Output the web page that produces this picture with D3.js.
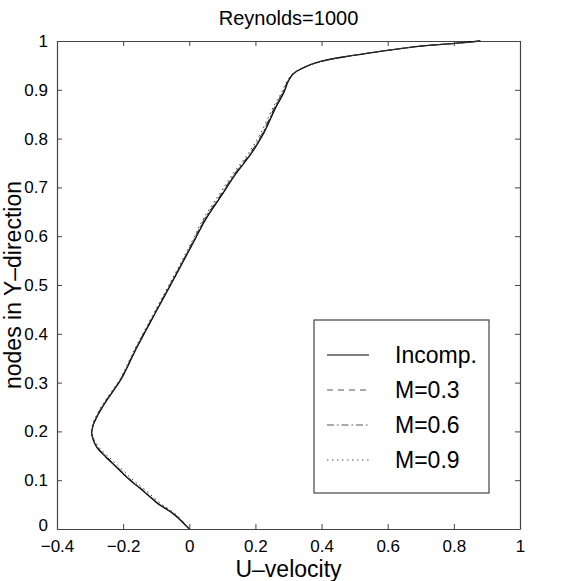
<!DOCTYPE html>
<html>
<head>
<meta charset="utf-8">
<script src="https://cdn.jsdelivr.net/npm/d3@7"></script>
<style>
  body { margin: 0; background: #fff; }
  svg { display: block; font-family: "Liberation Sans", Arial, sans-serif; }
</style>
</head>
<body>
<svg width="565" height="581"></svg>
<script>
// nodes in y (0..1) and u-velocity
const yNodes = [0, 0.031, 0.052, 0.079, 0.1, 0.124, 0.148, 0.169, 0.186, 0.197, 0.214, 0.234, 0.255, 0.279, 0.307, 0.374, 0.456, 0.531, 0.592, 0.634, 0.681, 0.729, 0.77, 0.811, 0.866, 0.893, 0.917, 0.932, 0.944, 0.958, 0.97, 0.981, 0.99, 0.995, 1];
const uIncomp = [0, -0.048, -0.095, -0.141, -0.179, -0.216, -0.253, -0.281, -0.292, -0.295, -0.29, -0.276, -0.258, -0.234, -0.206, -0.157, -0.092, -0.032, 0.016, 0.049, 0.095, 0.142, 0.188, 0.225, 0.263, 0.285, 0.299, 0.313, 0.341, 0.397, 0.491, 0.6, 0.706, 0.802, 0.88];
const uM03 = [0, -0.047, -0.094, -0.14, -0.178, -0.215, -0.252, -0.28, -0.291, -0.295, -0.29, -0.277, -0.259, -0.235, -0.207, -0.158, -0.093, -0.033, 0.015, 0.047, 0.093, 0.14, 0.186, 0.223, 0.261, 0.283, 0.298, 0.313, 0.341, 0.397, 0.491, 0.6, 0.706, 0.802, 0.88];
const uM06 = [0, -0.046, -0.092, -0.138, -0.176, -0.213, -0.25, -0.279, -0.291, -0.295, -0.291, -0.278, -0.26, -0.236, -0.208, -0.159, -0.094, -0.034, 0.013, 0.045, 0.091, 0.138, 0.184, 0.221, 0.259, 0.281, 0.297, 0.312, 0.341, 0.397, 0.491, 0.6, 0.706, 0.802, 0.88];
const uM09 = [0, -0.042, -0.086, -0.131, -0.169, -0.206, -0.244, -0.275, -0.29, -0.295, -0.292, -0.28, -0.262, -0.238, -0.21, -0.161, -0.096, -0.037, 0.01, 0.041, 0.086, 0.133, 0.179, 0.216, 0.255, 0.278, 0.295, 0.311, 0.34, 0.397, 0.491, 0.6, 0.706, 0.802, 0.88];

const seriesNames = ["Incomp.", "M=0.3", "M=0.6", "M=0.9"];
const seriesDash = [null, "6,5", "7,3,1.5,3", "1.5,3.5"];
const xTicks = [-0.4, -0.2, 0, 0.2, 0.4, 0.6, 0.8, 1];
const yTicks = [0, 0.1, 0.2, 0.3, 0.4, 0.5, 0.6, 0.7, 0.8, 0.9, 1];

const margin = {top: 41, right: 45, bottom: 52, left: 57},
      width = 565 - margin.left - margin.right,
      height = 581 - margin.top - margin.bottom;

const svg = d3.select("svg")
    .append("g")
    .attr("transform", `translate(${margin.left},${margin.top})`);

const x = d3.scaleLinear().domain([-0.4, 1]).range([0, width]);
const y = d3.scaleLinear().domain([0, 1]).range([height, 0]);

const fmt = d3.format("~g");
const axisColor = "#444";

// axes, MATLAB box style with inward ticks on all sides
const xAxis = svg.append("g")
    .attr("transform", `translate(0,${height})`)
    .call(d3.axisBottom(x).tickValues(xTicks).tickFormat(fmt).tickSizeInner(-5).tickSizeOuter(0).tickPadding(11));
const xTop = svg.append("g")
    .call(d3.axisTop(x).tickValues(xTicks).tickFormat("").tickSizeInner(-5).tickSizeOuter(0));
const yAxis = svg.append("g")
    .call(d3.axisLeft(y).tickValues(yTicks).tickFormat(fmt).tickSizeInner(-5).tickSizeOuter(0).tickPadding(9));
const yRight = svg.append("g")
    .attr("transform", `translate(${width},0)`)
    .call(d3.axisRight(y).tickValues(yTicks).tickFormat("").tickSizeInner(-5).tickSizeOuter(0));

[xAxis, xTop, yAxis, yRight].forEach(a => {
    a.select(".domain").attr("stroke", axisColor).attr("stroke-width", 1.2);
    a.selectAll(".tick line").attr("stroke", axisColor).attr("stroke-width", 1);
    a.selectAll("text").attr("fill", "#000").style("font-size", "17px")
        .style("font-family", "'Liberation Sans', Arial, sans-serif");
});
// lift the bottom y label a little so it clears the x labels
yAxis.selectAll(".tick text").filter(d => d === 0).attr("dy", "0.1em");

// curves
const allU = [uIncomp, uM03, uM06, uM09];
const line = d3.line()
    .x(d => x(d[0]))
    .y(d => y(d[1]))
    .curve(d3.curveCatmullRom.alpha(0.5));

allU.forEach((u, i) => {
    svg.append("path")
        .datum(u.map((v, j) => [v, yNodes[j]]))
        .attr("fill", "none")
        .attr("stroke", i === 0 ? "#000" : "#333")
        .attr("stroke-width", i === 0 ? 1.3 : 1)
        .attr("stroke-dasharray", seriesDash[i])
        .attr("d", line);
});

// legend
const lg = svg.append("g").attr("transform", `translate(${314 - margin.left},${320 - margin.top})`);
lg.append("rect")
    .attr("width", 175).attr("height", 173)
    .attr("fill", "#fff").attr("stroke", axisColor).attr("stroke-width", 1.2);
seriesNames.forEach((name, i) => {
    const ly = 35 + i * 35;
    lg.append("line")
        .attr("x1", 13).attr("x2", 55).attr("y1", ly).attr("y2", ly)
        .attr("stroke", i === 0 ? "#000" : "#555")
        .attr("stroke-width", 1)
        .attr("stroke-dasharray", seriesDash[i]);
    lg.append("text")
        .attr("x", 81).attr("y", ly + 8)
        .style("font-size", "23px")
        .text(name);
});

// titles
svg.append("text")
    .attr("x", width / 2).attr("y", -16)
    .attr("text-anchor", "middle")
    .style("font-size", "20px")
    .text("Reynolds=1000");

svg.append("text")
    .attr("x", width / 2).attr("y", height + 48)
    .attr("text-anchor", "middle")
    .style("font-size", "23px")
    .text("U\u2013velocity");

svg.append("text")
    .attr("transform", `translate(${-36},${height / 2}) rotate(-90)`)
    .attr("text-anchor", "middle")
    .style("font-size", "23px")
    .text("nodes in Y\u2013direction");
</script>
</body>
</html>
